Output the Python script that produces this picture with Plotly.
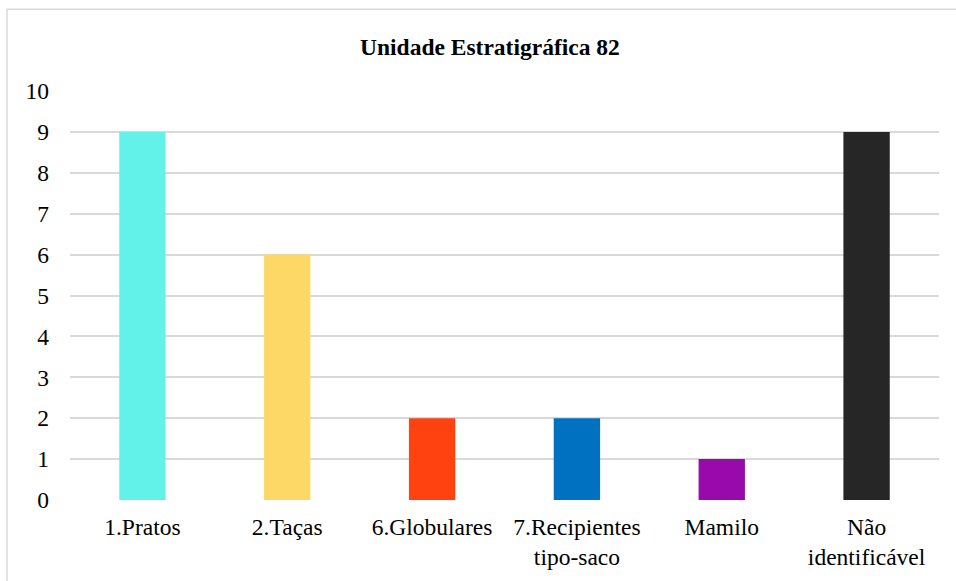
import plotly.graph_objects as go

categories = ["1.Pratos", "2.Taças", "6.Globulares", "7.Recipientes<br>tipo-saco", "Mamilo", "Não<br>identificável"]
values = [9, 6, 2, 2, 1, 9]
colors = ["#63f2e9", "#fdd867", "#ff4210", "#0070c0", "#990aad", "#262626"]
y_ticks = list(range(0, 11))

serif = "'Liberation Serif', 'Times New Roman', Times, serif"

fig = go.Figure(go.Bar(
    x=categories,
    y=values,
    marker=dict(color=colors, line=dict(width=0)),
    width=0.32,
))

fig.update_layout(
    width=956, height=581,
    margin=dict(l=70, r=17, t=91, b=81),
    paper_bgcolor="white", plot_bgcolor="white",
    font=dict(family=serif, size=23.5, color="#000000"),
    showlegend=False,
)
fig.update_xaxes(showline=False, ticks="", ticklabelstandoff=10, automargin=False,
                 tickfont=dict(family=serif, size=23.5))
fig.update_yaxes(
    range=[0, 10], tickvals=y_ticks, showgrid=True,
    gridcolor="#d9d9d9", gridwidth=1.5, zeroline=False, automargin=False,
    ticks="", ticklabelstandoff=20, tickfont=dict(family=serif, size=23.5),
)

# title
fig.add_annotation(
    text="<b>Unidade Estratigráfica 82</b>", xref="paper", yref="paper",
    x=0.483, y=1.107, showarrow=False, font=dict(family=serif, size=23.5),
    xanchor="center", yanchor="middle",
)

# chart frame
fig.add_shape(
    type="rect", xref="paper", yref="paper",
    x0=-0.0725, x1=1.2, y0=-0.4, y1=1.2,
    line=dict(color="#d9d9d9", width=1.5), layer="below",
)

fig.write_html("out.html", config={"displayModeBar": False},
               post_script="document.body.style.margin='0';")
